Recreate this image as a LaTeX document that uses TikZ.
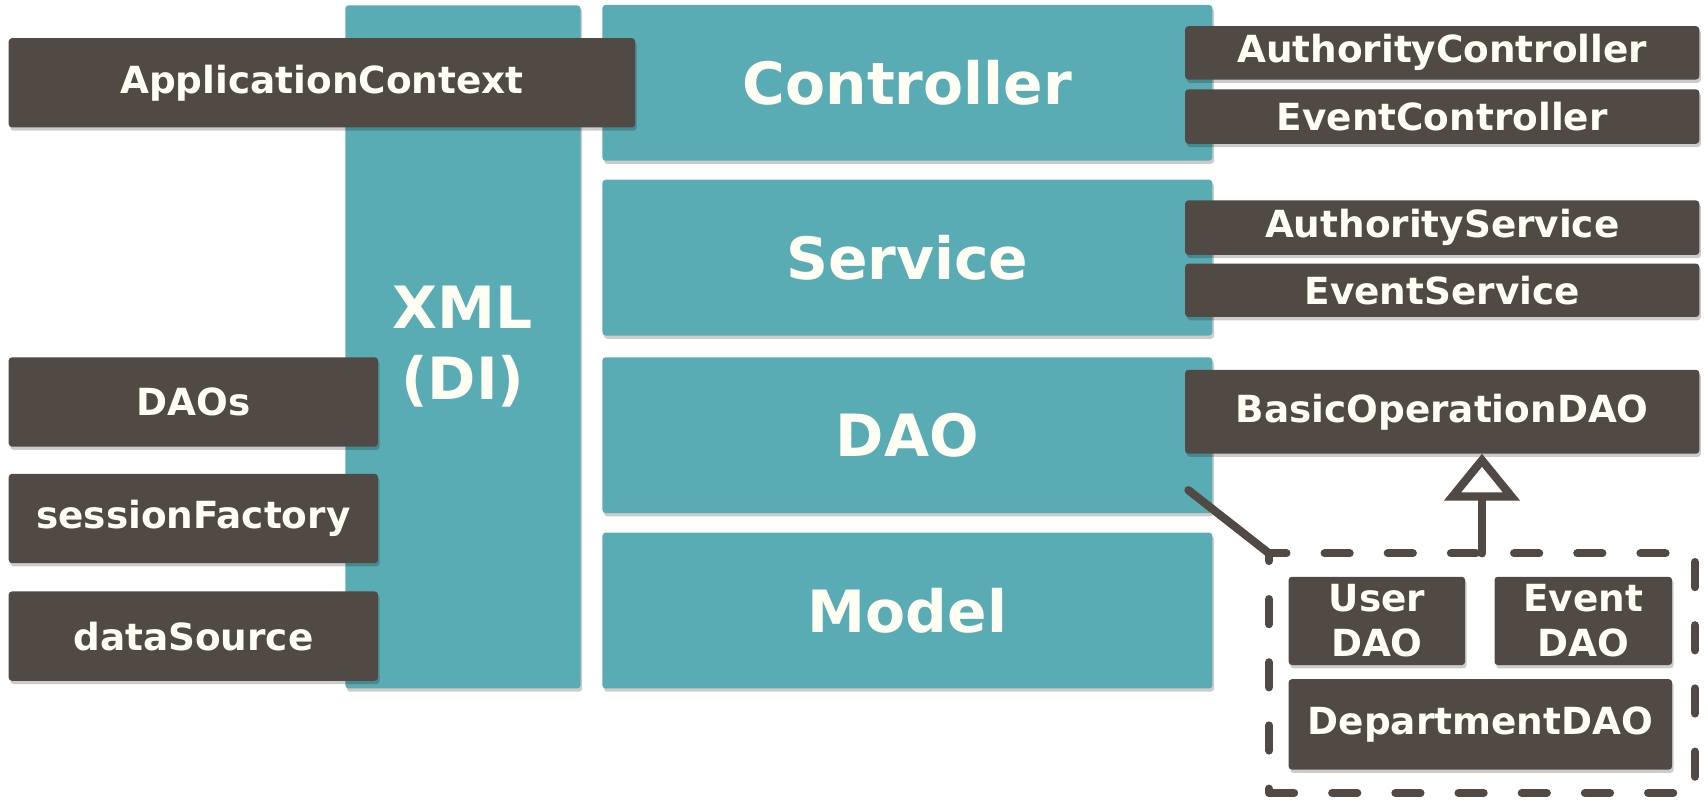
\documentclass[tikz,border=0pt]{standalone}
\usepackage{fontspec}
\setmainfont{DejaVu Sans}
\usetikzlibrary{shadows,arrows.meta}
\definecolor{teal1}{HTML}{5AACB4}
\definecolor{dark1}{HTML}{514944}
\definecolor{cream1}{HTML}{FFFEF2}
\tikzset{
  base/.style={inner sep=0pt, outer sep=0pt, align=center, text=cream1, rounded corners=3pt,
    drop shadow={shadow xshift=1.5pt, shadow yshift=-3pt, opacity=0.2, fill=black}},
  layer/.style={base, fill=teal1, font=\fontsize{53.5}{65}\selectfont\bfseries},
  darkbox/.style={base, fill=dark1, font=\fontsize{34.3}{41}\selectfont\bfseries},
  conn/.style={draw=dark1, line width=7.5pt, line cap=round, line join=round},
  grpbox/.style={draw=dark1, line width=7.5pt, line cap=round, dash pattern=on 23pt off 35pt,
    inner sep=0pt, outer sep=0pt}
}
\begin{document}
\begin{tikzpicture}[x=1pt,y=-1pt]
\useasboundingbox (0,0) rectangle (1568,742.7);
% teal layers
\node[layer, minimum width=216, minimum height=627] (xml) at (425,318.5) {XML\\(DI)};
\node[layer, minimum width=560, minimum height=143] (ctl) at (833,76) {Controller};
\node[layer, minimum width=560, minimum height=143] (svc) at (833,236.5) {Service};
\node[layer, minimum width=560, minimum height=143] (dao) at (833,399.5) {DAO};
\node[layer, minimum width=560, minimum height=143] (mdl) at (833,560.5) {Model};
% dark boxes left
\node[darkbox, minimum width=575, minimum height=82] (app) at (295.5,76) {ApplicationContext};
\node[darkbox, minimum width=339, minimum height=82] (daos) at (177.5,369) {DAOs};
\node[darkbox, minimum width=339, minimum height=82] (sf) at (177.5,476) {sessionFactory};
\node[darkbox, minimum width=339, minimum height=82] (ds) at (177.5,584) {dataSource};
% dark boxes right
\node[darkbox, minimum width=472, minimum height=49] (ac) at (1324,48.5) {AuthorityController};
\node[darkbox, minimum width=472, minimum height=50] (ec) at (1324,107) {EventController};
\node[darkbox, minimum width=472, minimum height=50] (as) at (1324,209) {AuthorityService};
\node[darkbox, minimum width=472, minimum height=49] (es) at (1324,266.5) {EventService};
\node[darkbox, minimum width=472, minimum height=77] (bod) at (1324,378) {BasicOperationDAO};
% group
\node[darkbox, minimum width=162, minimum height=81] (ud) at (1264,570) {User\\DAO};
\node[darkbox, minimum width=163, minimum height=81] (ed) at (1453.5,570) {Event\\DAO};
\node[darkbox, minimum width=352, minimum height=83] (dd) at (1359,665) {DepartmentDAO};
\node[grpbox, minimum width=391, minimum height=220] (grp) at (1360.5,618) {};
% connectors
\coordinate (dstart) at (1091,450);
\draw[conn] (dstart) -- (grp.north west);
\draw[conn, -{Triangle[open, length=43pt, width=68pt, fill=white]}] (grp.north) -- (grp.north |- bod.south);
\end{tikzpicture}
\end{document}
